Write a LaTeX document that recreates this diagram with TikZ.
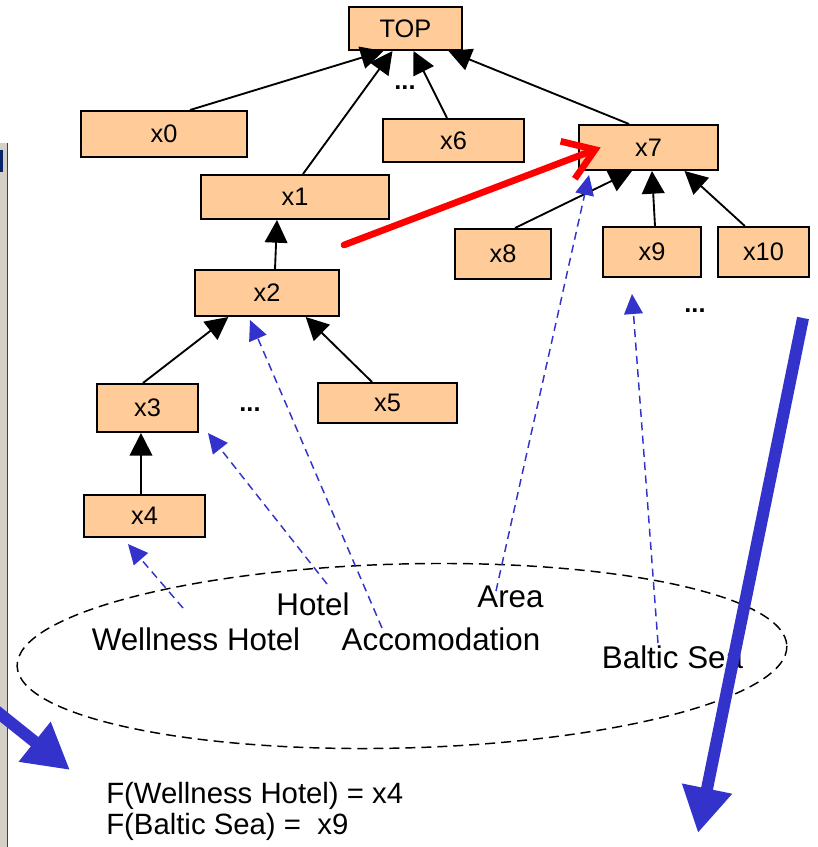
\documentclass[tikz,border=0pt]{standalone}
\usepackage{fontspec}
\setmainfont{Liberation Sans}
\usetikzlibrary{arrows.meta,calc}
\definecolor{peach}{HTML}{FFCC99}
\definecolor{myblue}{HTML}{3333CC}
\definecolor{wingray}{HTML}{D4D0C8}
\definecolor{windark}{HTML}{404040}
\definecolor{winnavy}{HTML}{0A246A}
\begin{document}
\begin{tikzpicture}[x=0.75pt,y=-0.75pt,
 box/.style={draw=black,line width=1.5pt,fill=peach,inner sep=0pt,font=\fontsize{19}{21}\selectfont},
 edge/.style={line width=1.4pt,-{Triangle[length=17pt,width=17pt]}},
 link/.style={myblue,line width=1.1pt,dash pattern=on 6pt off 4pt,-{Triangle[length=15pt,width=14pt]}},
 lab/.style={anchor=base,inner sep=0pt,font=\fontsize{23.5}{28}\selectfont},
 formula/.style={anchor=base west,inner sep=0pt,font=\fontsize{22}{26}\selectfont},
 dots/.style={font=\bfseries\fontsize{19}{21}\selectfont,inner sep=0pt},
 ell/.style={draw=black,line width=1.1pt,dash pattern=on 7.5pt off 4.5pt},
 bigarrow/.style={myblue,line width=9pt,-{Triangle[length=34pt,width=36pt]}},
 redarrow/.style={red,line width=5pt,line cap=round,line join=round,-{Straight Barb[length=22pt,width=30pt]}},
]
\useasboundingbox (0,0) rectangle (818,847);
\clip (0,0) rectangle (818,847);

% window fragment at the left edge
\fill[wingray] (0,143) rectangle (7,847);
\draw[windark,line width=1.2pt] (7.5,143) -- (7.5,847);
\fill[winnavy] (0,150) rectangle (3,172);

% dashed ellipse
\draw[ell,rotate around={1.5:(402,656)}] (402,656) ellipse [x radius=385, y radius=92];

% boxes
\node[box,minimum width=84.75pt,minimum height=32.25pt] (top) at (405.5,28.5) {TOP};
\node[box,minimum width=124.5pt,minimum height=34.5pt] (x0) at (164,134) {x0};
\node[box,minimum width=105.75pt,minimum height=32.25pt] (x6) at (453.5,140.5) {x6};
\node[box,minimum width=104.25pt,minimum height=33.75pt] (x7) at (648.5,147.5) {x7};
\node[box,minimum width=141pt,minimum height=33pt] (x1) at (295,197) {x1};
\node[box,minimum width=72pt,minimum height=37.5pt] (x8) at (503,254) {x8};
\node[box,minimum width=73.5pt,minimum height=37.5pt] (x9) at (652,252) {x9};
\node[box,minimum width=68.25pt,minimum height=37.5pt] (x10) at (763.5,252) {x10};
\node[box,minimum width=108pt,minimum height=34.5pt] (x2) at (267,293) {x2};
\node[box,minimum width=75.75pt,minimum height=36pt] (x3) at (147.5,408) {x3};
\node[box,minimum width=104.25pt,minimum height=30pt] (x5) at (387.5,403) {x5};
\node[box,minimum width=90.75pt,minimum height=31.5pt] (x4) at (144.5,516) {x4};

% dots
\node[dots] (d1) at (405,88) {...};
\node[dots] (d2) at (250,410) {...};
\node[dots] (d3) at (695,311) {...};

% hierarchy edges
\draw[edge] ([xshift=19.5pt]x0.north) -- ([xshift=-16.5pt]top.south);
\draw[edge] ([xshift=6pt]x1.north) -- ([xshift=-9.75pt]top.south);
\draw[edge] ([xshift=-4.9pt]x6.north) -- ([xshift=6pt]top.south);
\draw[edge] ([xshift=-14.6pt]x7.north) -- ([xshift=32.25pt]top.south);
\draw[edge] ([xshift=9pt]x8.north) -- ([xshift=-12.4pt]x7.south);
\draw[edge] ([xshift=2.25pt]x9.north) -- ([xshift=2.6pt]x7.south);
\draw[edge] ([xshift=-14pt]x10.north) -- ([xshift=27pt]x7.south);
\draw[edge] ([xshift=6pt]x2.north) -- ([xshift=-13.5pt]x1.south);
\draw[edge] ([xshift=-3.4pt]x3.north) -- ([xshift=-29pt]x2.south);
\draw[edge] ([xshift=-11.6pt]x5.north) -- ([xshift=29pt]x2.south);
\draw[edge] ([xshift=-2.6pt]x4.north) -- ([xshift=-4.9pt]x3.south);

% labels
\node[lab] (wh) at (196,650) {Wellness Hotel};
\node[lab] (ho) at (313,615) {Hotel};
\node[lab] (ac) at (441,650) {Accomodation};
\node[lab] (ar) at (510.5,607) {Area};
\node[lab] (bs) at (672.5,668) {Baltic Sea};

% mapping links
\coordinate (wh0) at (183,608);
\coordinate (ho0) at (327,584);
\coordinate (ho1) at (208,433);
\coordinate (ac0) at (382,628);
\coordinate (ar0) at (496,591);
\coordinate (bs0) at (658,643);
\coordinate (bs1) at (632,294);
\draw[link] (wh0) -- ([xshift=-12.4pt,yshift=-4.5pt]x4.south);
\draw[link] (ho0) -- (ho1);
\draw[link] (ac0) -- ([xshift=-12.75pt,yshift=-2.25pt]x2.south);
\draw[link] (ar0) -- ([xshift=8.25pt,yshift=-3pt]x7.south west);
\draw[link] (bs0) -- (bs1);

% red arrow
\coordinate (r0) at (344,245);
\draw[redarrow] (r0) -- ([xshift=17pt]x7.west);

% big blue arrows
\coordinate (bb0) at (803,318);
\coordinate (bb1) at (698,833);
\draw[bigarrow] (bb0) -- (bb1);
\coordinate (lb0) at (-20,698);
\coordinate (lb1) at (70,770);
\draw[bigarrow] (lb0) -- (lb1);

% formulas
\node[formula] (f1) at (106,803) {F(Wellness Hotel) = x4};
\node[formula] (f2) at (106,834) {F(Baltic Sea) =\ \ x9};
\end{tikzpicture}
\end{document}
